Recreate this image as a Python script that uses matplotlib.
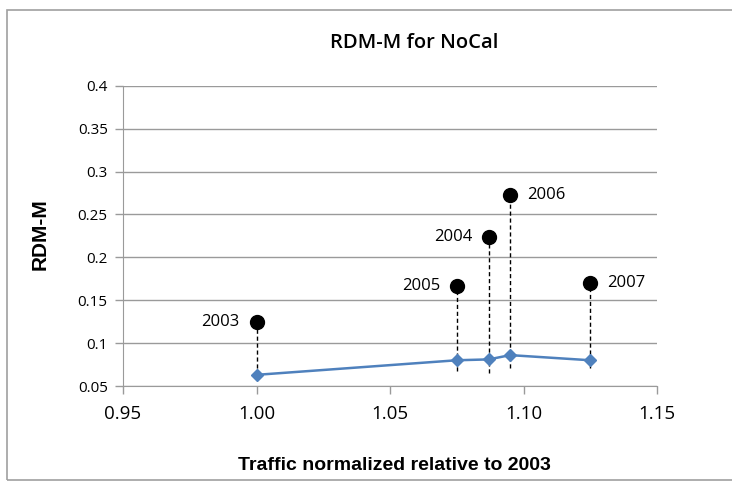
import numpy as np
import matplotlib.pyplot as plt
from matplotlib.patches import Rectangle

# RDM-M per year, NoCal
years = ["2003", "2004", "2005", "2006", "2007"]
traffic = [1.000, 1.087, 1.075, 1.095, 1.125]
rdm_line = [0.063, 0.081, 0.080, 0.086, 0.080]
rdm_pts = [0.125, 0.224, 0.167, 0.273, 0.170]
drop_end = [0.063, 0.065, 0.067, 0.071, 0.071]
label_side = ["left", "left", "left", "right", "right"]

plt.rcParams['font.family'] = ['Open Sans', 'DejaVu Sans']

fig = plt.figure(figsize=(7.32, 4.87), dpi=100)
ax = fig.add_axes([123/732, 1 - 386/487, (657-123)/732, (386-85.7)/487])

fig.patches.append(Rectangle((7/732, 1 - 480/487), 1.0, 470/487, transform=fig.transFigure,
                             fill=False, edgecolor='#a0a0a0', linewidth=1.2))

# line through traffic-sorted points
order = np.argsort(traffic)
xs = np.array(traffic)[order]
ys = np.array(rdm_line)[order]
ax.plot(xs, ys, color='#4f81bd', linewidth=1.8, marker='D', markersize=6.5,
        markerfacecolor='#4f81bd', markeredgecolor='#4f81bd', zorder=3)

for x, top, bot in zip(traffic, rdm_pts, drop_end):
    ax.plot([x, x], [bot, top], color='black', linestyle=(0, (3, 2)), linewidth=1, zorder=2)
ax.plot(traffic, rdm_pts, 'o', color='black', markersize=10, zorder=4)

for x, y, yr, side in zip(traffic, rdm_pts, years, label_side):
    if side == "left":
        ax.annotate(yr, (x, y), xytext=(-12, 0), textcoords='offset points',
                    ha='right', va='center', fontsize=12)
    else:
        ax.annotate(yr, (x, y), xytext=(12, 0), textcoords='offset points',
                    ha='left', va='center', fontsize=12)

ax.set_xlim(0.95, 1.15)
ax.set_ylim(0.05, 0.4)
ax.set_xticks([0.95, 1.00, 1.05, 1.10, 1.15])
ax.set_xticklabels(["0.95", "1.00", "1.05", "1.10", "1.15"], fontsize=13.5)
ax.set_yticks(np.arange(0.05, 0.401, 0.05))
ax.set_yticklabels(["0.05", "0.1", "0.15", "0.2", "0.25", "0.3", "0.35", "0.4"], fontsize=11)
ax.yaxis.grid(True, color='#9a9a9a', linewidth=1)
ax.set_axisbelow(True)
for s in ['top', 'right']:
    ax.spines[s].set_visible(False)
for s in ['left', 'bottom']:
    ax.spines[s].set_color('#9a9a9a')
ax.tick_params(axis='both', color='#9a9a9a', length=6, width=1)
ax.tick_params(axis='x', pad=8)
ax.tick_params(axis='y', pad=5)

fig.text(414/732, 1 - 43/487, "RDM-M for NoCal", ha='center', va='center',
         fontsize=14.5, fontweight='semibold')
fig.text(394/732, 1 - 466/487, "Traffic normalized relative to 2003", ha='center', va='center',
         fontsize=14, fontweight='bold', family='Liberation Sans')
fig.text(40/732, 1 - 234/487, "RDM-M", ha='center', va='center', rotation=90,
         fontsize=15, fontweight='bold', family='Liberation Sans')

fig.savefig("out.png", dpi=100)
